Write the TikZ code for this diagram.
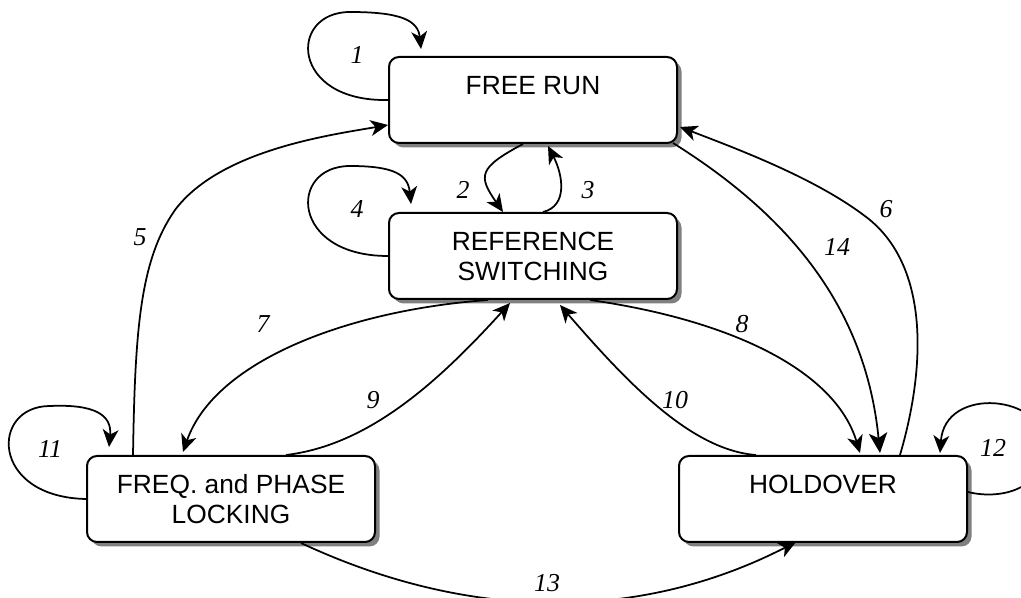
\documentclass[tikz,border=0pt]{standalone}
\usepackage{fontspec}
\usepackage{tikz}
\usetikzlibrary{arrows.meta,positioning,calc,shadows}
\newfontfamily\boxfont{Liberation Sans}
\newfontfamily\labelfont{Liberation Serif}

\begin{document}
\begin{tikzpicture}[
        x=0.6pt, y=-0.6pt,
        state/.style={rectangle, draw, fill=white, line width=1.2pt, rounded corners=6pt, minimum width=172.8pt, minimum height=51.6pt, inner sep=0pt, align=center, font={\boxfont\fontsize{15.8}{18}\selectfont}, drop shadow={shadow xshift=2.7pt, shadow yshift=-2.7pt, fill=black!50, opacity=1}},
        num/.style={inner sep=0pt, font={\labelfont\itshape\fontsize{15.5}{18}\selectfont}},
        arrow/.style={-{Stealth[length=10.5pt, width=9.5pt, inset=3pt]}, line width=1.05pt}
    ]
        \useasboundingbox (0,0) rectangle (1021,598);

        % States
        \node[state] (freerun) at (533,100) {FREE RUN\\\mbox{}};
        \node[state, below=40.8pt of freerun] (refsw) {REFERENCE\\SWITCHING};
        \node[state, below left=93pt and 7.2pt of refsw] (locking) {FREQ. and PHASE\\LOCKING};
        \node[state, below right=93pt and 0pt of refsw] (holdover) {HOLDOVER\\\mbox{}};

        % Self loops
        \draw[arrow] (freerun.west) .. controls (290,102) and (288,12) .. (350,12) .. controls (400,12) and (418,20) .. ($(freerun.north west)+(33,-7)$);
        \draw[arrow] (refsw.west) .. controls (290,256) and (288,166) .. (350,166) .. controls (395,166) and (408,175) .. ($(refsw.north west)+(23,-8)$);
        \draw[arrow] (locking.west) .. controls (-10,497) and (-10,406) .. (50,406) .. controls (95,404) and (112,415) .. ($(locking.north west)+(23,-8)$);
        \draw[arrow] ($(holdover.east)+(0,-7)$) .. controls (1000,500) and (1045,490) .. (1045,445) .. controls (1045,395) and (945,385) .. ($(holdover.north east)+(-28,-2)$);

        % Transitions
        \draw[arrow] ($(freerun.south)+(-10,0)$) .. controls (478,168) and (478,176) .. ($(refsw.north)+(-30,0)$);
        \draw[arrow] ($(refsw.north)+(10,0)$) .. controls (568,206) and (563,175) .. ($(freerun.south)+(15,2)$);
        \draw[arrow] ($(locking.north west)+(47,0)$) .. controls (135,330) and (140,260) .. (175,210) .. controls (220,150) and (330,135) .. ($(freerun.west)+(0,25)$);
        \draw[arrow] ($(holdover.north)+(77,0)$) .. controls (925,370) and (930,270) .. (870,220) .. controls (820,180) and (740,150) .. ($(freerun.east)+(2,27)$);
        \draw[arrow] ($(refsw.south)+(-45,0)$) .. controls (350,310) and (215,360) .. ($(locking.north west)+(97,-3)$);
        \draw[arrow] ($(refsw.south)+(57,0)$) .. controls (730,320) and (835,370) .. ($(holdover.north)+(37,-2)$);
        \draw[arrow] ($(locking.north east)+(-90,0)$) .. controls (370,445) and (440,380) .. ($(refsw.south)+(-23,3)$);
        \draw[arrow] ($(holdover.north west)+(78,0)$) .. controls (690,450) and (625,380) .. ($(refsw.south)+(27,5)$);
        \draw[arrow] ($(locking.south east)+(-75,0)$) .. controls (470,622) and (640,622) .. ($(holdover.south west)+(118,-1)$);
        \draw[arrow, -{Stealth[length=12pt, width=11pt, inset=3pt]}] ($(freerun.south east)+(-5,-1)$) .. controls (780,210) and (865,300) .. ($(holdover.north)+(57,-2)$);

        % Labels
        \node[num] (n1) at (357,55) {1};
        \node[num] (n2) at (463,190) {2};
        \node[num] (n3) at (588,190) {3};
        \node[num] (n4) at (357,209) {4};
        \node[num] (n5) at (140,237) {5};
        \node[num] (n6) at (886,209) {6};
        \node[num] (n7) at (263,324) {7};
        \node[num] (n8) at (742,324) {8};
        \node[num] (n9) at (373,400) {9};
        \node[num] (n10) at (675,400) {10};
        \node[num] (n11) at (50,449) {11};
        \node[num] (n12) at (993,448) {12};
        \node[num] (n13) at (547,583) {13};
        \node[num] (n14) at (837,247) {14};

    \end{tikzpicture}
\end{document}
